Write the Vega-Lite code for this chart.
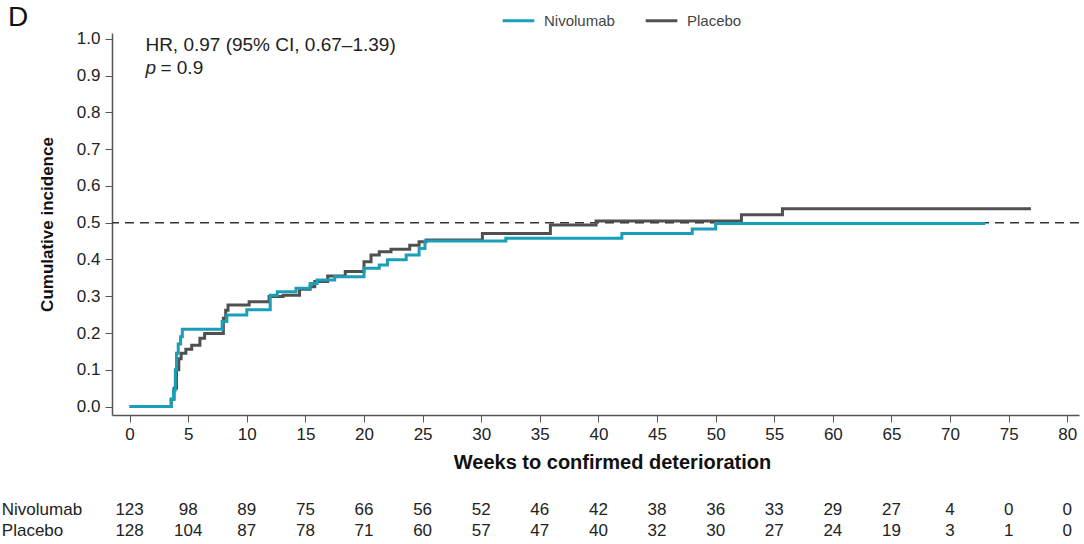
{
  "$schema": "https://vega.github.io/schema/vega-lite/v6.json",
  "width": 967,
  "height": 382,
  "autosize": {"type": "none"},
  "padding": {"left": 112, "top": 33, "right": 5, "bottom": 129},
  "background": "white",
  "config": {
    "font": "Liberation Sans",
    "view": {"stroke": null},
    "axisY": {"grid": false, "tickSize": 7, "tickColor": "#555", "domainColor": "#555", "domainWidth": 1.5,
              "labelFontSize": 17, "labelColor": "#222", "labelPadding": 5, "labelOverlap": false,
              "titleFontSize": 17, "titleFontWeight": "bold", "titleColor": "#111", "titlePadding": 20},
    "axisX": {"grid": false, "tickSize": 7, "tickColor": "#555", "domainColor": "#555", "domainWidth": 1.5,
              "labelFontSize": 17, "labelColor": "#222", "labelPadding": 4, "labelOverlap": false,
              "titleFontSize": 20, "titleFontWeight": "bold", "titleColor": "#111", "titlePadding": 10, "titleX": 500}
  },
  "title": {"text": "D", "anchor": "start", "frame": "group", "dx": -104, "dy": 29, "offset": 0, "fontSize": 28, "fontWeight": "normal", "color": "#111"},
  "datasets": {
    "curves": [
      {"arm": "Placebo", "week": 0, "ci": 0},
      {"arm": "Placebo", "week": 3.55, "ci": 0.02},
      {"arm": "Placebo", "week": 3.8, "ci": 0.05},
      {"arm": "Placebo", "week": 4.0, "ci": 0.10},
      {"arm": "Placebo", "week": 4.2, "ci": 0.13},
      {"arm": "Placebo", "week": 4.4, "ci": 0.145},
      {"arm": "Placebo", "week": 4.8, "ci": 0.156},
      {"arm": "Placebo", "week": 5.3, "ci": 0.167},
      {"arm": "Placebo", "week": 6.0, "ci": 0.186},
      {"arm": "Placebo", "week": 6.4, "ci": 0.199},
      {"arm": "Placebo", "week": 8.0, "ci": 0.24},
      {"arm": "Placebo", "week": 8.2, "ci": 0.262},
      {"arm": "Placebo", "week": 8.4, "ci": 0.276},
      {"arm": "Placebo", "week": 10.2, "ci": 0.285},
      {"arm": "Placebo", "week": 11.9, "ci": 0.299},
      {"arm": "Placebo", "week": 13.1, "ci": 0.303},
      {"arm": "Placebo", "week": 14.5, "ci": 0.319},
      {"arm": "Placebo", "week": 15.4, "ci": 0.326},
      {"arm": "Placebo", "week": 15.8, "ci": 0.34},
      {"arm": "Placebo", "week": 16.9, "ci": 0.355},
      {"arm": "Placebo", "week": 18.4, "ci": 0.367},
      {"arm": "Placebo", "week": 20.0, "ci": 0.394},
      {"arm": "Placebo", "week": 20.6, "ci": 0.412},
      {"arm": "Placebo", "week": 21.3, "ci": 0.421},
      {"arm": "Placebo", "week": 22.3, "ci": 0.428},
      {"arm": "Placebo", "week": 23.9, "ci": 0.439},
      {"arm": "Placebo", "week": 24.7, "ci": 0.448},
      {"arm": "Placebo", "week": 25.3, "ci": 0.453},
      {"arm": "Placebo", "week": 30.1, "ci": 0.471},
      {"arm": "Placebo", "week": 35.9, "ci": 0.494},
      {"arm": "Placebo", "week": 39.8, "ci": 0.505},
      {"arm": "Placebo", "week": 52.2, "ci": 0.522},
      {"arm": "Placebo", "week": 55.7, "ci": 0.538},
      {"arm": "Placebo", "week": 76.9, "ci": 0.538},
      {"arm": "Nivolumab", "week": 0, "ci": 0},
      {"arm": "Nivolumab", "week": 3.55, "ci": 0.02},
      {"arm": "Nivolumab", "week": 3.75, "ci": 0.045},
      {"arm": "Nivolumab", "week": 3.9, "ci": 0.10},
      {"arm": "Nivolumab", "week": 4.0, "ci": 0.145},
      {"arm": "Nivolumab", "week": 4.15, "ci": 0.17},
      {"arm": "Nivolumab", "week": 4.35, "ci": 0.19},
      {"arm": "Nivolumab", "week": 4.5, "ci": 0.21},
      {"arm": "Nivolumab", "week": 7.9, "ci": 0.231},
      {"arm": "Nivolumab", "week": 8.3, "ci": 0.249},
      {"arm": "Nivolumab", "week": 10.0, "ci": 0.263},
      {"arm": "Nivolumab", "week": 12.0, "ci": 0.303},
      {"arm": "Nivolumab", "week": 12.6, "ci": 0.312},
      {"arm": "Nivolumab", "week": 14.2, "ci": 0.322},
      {"arm": "Nivolumab", "week": 15.4, "ci": 0.335},
      {"arm": "Nivolumab", "week": 16.0, "ci": 0.344},
      {"arm": "Nivolumab", "week": 17.5, "ci": 0.353},
      {"arm": "Nivolumab", "week": 20.0, "ci": 0.376},
      {"arm": "Nivolumab", "week": 21.3, "ci": 0.385},
      {"arm": "Nivolumab", "week": 22.0, "ci": 0.399},
      {"arm": "Nivolumab", "week": 23.6, "ci": 0.412},
      {"arm": "Nivolumab", "week": 24.7, "ci": 0.43},
      {"arm": "Nivolumab", "week": 25.2, "ci": 0.45},
      {"arm": "Nivolumab", "week": 32.1, "ci": 0.458},
      {"arm": "Nivolumab", "week": 42.0, "ci": 0.471},
      {"arm": "Nivolumab", "week": 48.0, "ci": 0.483},
      {"arm": "Nivolumab", "week": 50.0, "ci": 0.498},
      {"arm": "Nivolumab", "week": 73.0, "ci": 0.498}
    ],
    "risk": [
      {"arm": "Nivolumab", "week": 0, "n": 123}, {"arm": "Nivolumab", "week": 5, "n": 98},
      {"arm": "Nivolumab", "week": 10, "n": 89}, {"arm": "Nivolumab", "week": 15, "n": 75},
      {"arm": "Nivolumab", "week": 20, "n": 66}, {"arm": "Nivolumab", "week": 25, "n": 56},
      {"arm": "Nivolumab", "week": 30, "n": 52}, {"arm": "Nivolumab", "week": 35, "n": 46},
      {"arm": "Nivolumab", "week": 40, "n": 42}, {"arm": "Nivolumab", "week": 45, "n": 38},
      {"arm": "Nivolumab", "week": 50, "n": 36}, {"arm": "Nivolumab", "week": 55, "n": 33},
      {"arm": "Nivolumab", "week": 60, "n": 29}, {"arm": "Nivolumab", "week": 65, "n": 27},
      {"arm": "Nivolumab", "week": 70, "n": 4}, {"arm": "Nivolumab", "week": 75, "n": 0},
      {"arm": "Nivolumab", "week": 80, "n": 0},
      {"arm": "Placebo", "week": 0, "n": 128}, {"arm": "Placebo", "week": 5, "n": 104},
      {"arm": "Placebo", "week": 10, "n": 87}, {"arm": "Placebo", "week": 15, "n": 78},
      {"arm": "Placebo", "week": 20, "n": 71}, {"arm": "Placebo", "week": 25, "n": 60},
      {"arm": "Placebo", "week": 30, "n": 57}, {"arm": "Placebo", "week": 35, "n": 47},
      {"arm": "Placebo", "week": 40, "n": 40}, {"arm": "Placebo", "week": 45, "n": 32},
      {"arm": "Placebo", "week": 50, "n": 30}, {"arm": "Placebo", "week": 55, "n": 27},
      {"arm": "Placebo", "week": 60, "n": 24}, {"arm": "Placebo", "week": 65, "n": 19},
      {"arm": "Placebo", "week": 70, "n": 3}, {"arm": "Placebo", "week": 75, "n": 1},
      {"arm": "Placebo", "week": 80, "n": 0}
    ],
    "arms": [{"arm": "Nivolumab"}, {"arm": "Placebo"}],
    "stats": [{"line": "HR, 0.97 (95% CI, 0.67\u20131.39)"}]
  },
  "layer": [
    {
      "layer": [
        {
          "data": {"name": "stats"},
          "mark": {"type": "rule", "strokeDash": [9, 6], "strokeWidth": 1.5, "color": "#333"},
          "encoding": {"y": {"datum": 0.5, "axis": {"values": [0, 0.1, 0.2, 0.3, 0.4, 0.5, 0.6, 0.7, 0.8, 0.9, 1.0], "format": ".1f", "title": "Cumulative incidence"}}}
        },
        {
          "data": {"name": "curves"},
          "mark": {"type": "line", "interpolate": "step-after", "strokeWidth": 3},
          "encoding": {
            "x": {
              "field": "week", "type": "quantitative",
              "title": "Weeks to confirmed deterioration",
              "scale": {"domain": [-1.5, 81], "nice": false, "zero": false},
              "axis": {"values": [0, 5, 10, 15, 20, 25, 30, 35, 40, 45, 50, 55, 60, 65, 70, 75, 80]}
            },
            "y": {
              "field": "ci", "type": "quantitative",
              "title": "Cumulative incidence",
              "scale": {"domain": [-0.023, 1.016], "nice": false, "zero": false},
              "axis": {"values": [0, 0.1, 0.2, 0.3, 0.4, 0.5, 0.6, 0.7, 0.8, 0.9, 1.0], "format": ".1f"}
            },
            "color": {
              "field": "arm", "type": "nominal",
              "scale": {"domain": ["Nivolumab", "Placebo"], "range": ["#1a9fb8", "#505050"]},
              "legend": {
                "title": null, "orient": "none", "legendX": 389, "legendY": -30, "direction": "horizontal",
                "symbolType": "stroke", "symbolSize": 1000, "symbolStrokeWidth": 3,
                "labelFontSize": 15, "labelColor": "#444", "labelOffset": 8, "columnPadding": 24
              }
            },
            "order": {"field": "week", "type": "quantitative"}
          }
        },
        {
          "data": {"name": "stats"},
          "mark": {"type": "text", "align": "left", "baseline": "middle", "fontSize": 19, "color": "#222"},
          "encoding": {
            "x": {"datum": 1.35, "axis": {"values": [0, 5, 10, 15, 20, 25, 30, 35, 40, 45, 50, 55, 60, 65, 70, 75, 80], "title": "Weeks to confirmed deterioration"}},
            "y": {"datum": 0.984, "axis": {"values": [0, 0.1, 0.2, 0.3, 0.4, 0.5, 0.6, 0.7, 0.8, 0.9, 1.0], "format": ".1f", "title": "Cumulative incidence"}},
            "text": {"field": "line"}
          }
        },
        {
          "data": {"name": "stats"},
          "mark": {"type": "text", "align": "left", "baseline": "middle", "fontSize": 19, "fontStyle": "italic", "color": "#222", "text": "p"},
          "encoding": {
            "x": {"datum": 1.35, "axis": {"values": [0, 5, 10, 15, 20, 25, 30, 35, 40, 45, 50, 55, 60, 65, 70, 75, 80], "title": "Weeks to confirmed deterioration"}},
            "y": {"datum": 0.921, "axis": {"values": [0, 0.1, 0.2, 0.3, 0.4, 0.5, 0.6, 0.7, 0.8, 0.9, 1.0], "format": ".1f", "title": "Cumulative incidence"}}
          }
        },
        {
          "data": {"name": "stats"},
          "mark": {"type": "text", "align": "left", "baseline": "middle", "fontSize": 19, "color": "#222", "dx": 15, "text": "= 0.9"},
          "encoding": {
            "x": {"datum": 1.35, "axis": {"values": [0, 5, 10, 15, 20, 25, 30, 35, 40, 45, 50, 55, 60, 65, 70, 75, 80], "title": "Weeks to confirmed deterioration"}},
            "y": {"datum": 0.921, "axis": {"values": [0, 0.1, 0.2, 0.3, 0.4, 0.5, 0.6, 0.7, 0.8, 0.9, 1.0], "format": ".1f", "title": "Cumulative incidence"}}
          }
        }
      ]
    },
    {
      "layer": [
        {
          "data": {"name": "risk"},
          "mark": {"type": "text", "align": "center", "baseline": "middle", "fontSize": 17, "color": "#222"},
          "encoding": {
            "x": {"field": "week", "type": "quantitative", "title": "Weeks to confirmed deterioration", "axis": {"values": [0, 5, 10, 15, 20, 25, 30, 35, 40, 45, 50, 55, 60, 65, 70, 75, 80]}},
            "y": {"field": "arm", "type": "nominal", "axis": null,
                  "scale": {"type": "point", "domain": ["Nivolumab", "Placebo"], "range": [477, 498], "padding": 0}},
            "text": {"field": "n", "type": "quantitative"}
          }
        },
        {
          "data": {"name": "arms"},
          "mark": {"type": "text", "align": "left", "baseline": "middle", "fontSize": 17, "color": "#222"},
          "encoding": {
            "x": {"datum": -10.9, "axis": {"values": [0, 5, 10, 15, 20, 25, 30, 35, 40, 45, 50, 55, 60, 65, 70, 75, 80], "title": "Weeks to confirmed deterioration"}},
            "y": {"field": "arm", "type": "nominal", "axis": null,
                  "scale": {"type": "point", "domain": ["Nivolumab", "Placebo"], "range": [477, 498], "padding": 0}},
            "text": {"field": "arm"}
          }
        }
      ]
    }
  ],
  "resolve": {"scale": {"y": "independent"}}
}
